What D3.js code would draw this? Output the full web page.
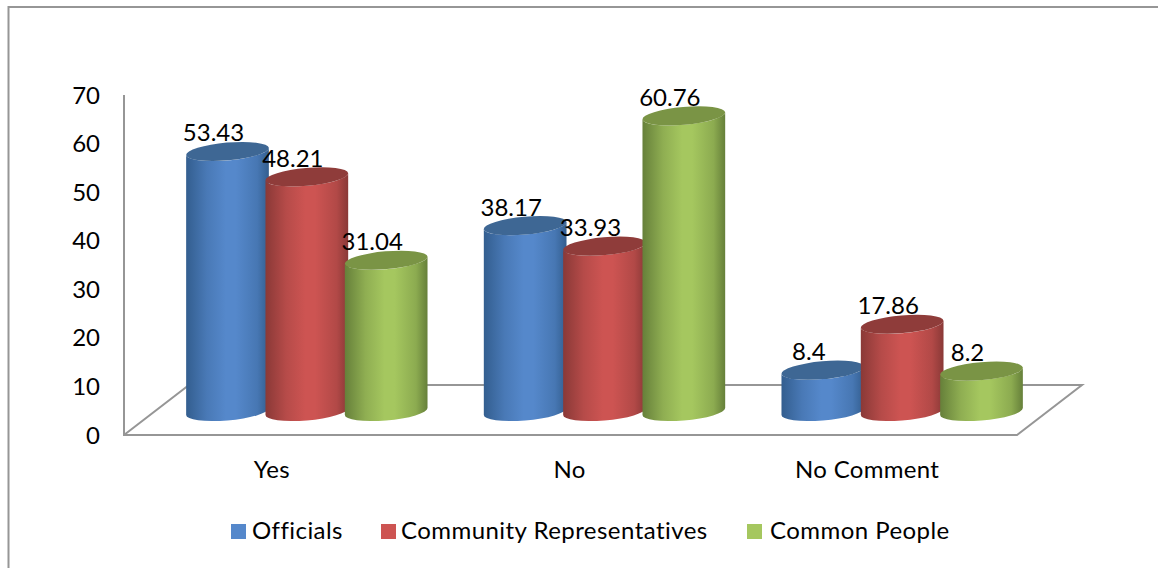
<!DOCTYPE html>
<html><head><meta charset="utf-8">
<script src="https://cdnjs.cloudflare.com/ajax/libs/d3/7.8.5/d3.min.js"></script>
<style>html,body{margin:0;padding:0;background:#fff}svg{display:block}text{font-family:Lato,"Open Sans",sans-serif;fill:#000}</style>
</head><body><svg id="c" width="1158" height="568"></svg>
<script>
const categories = ["Yes","No","No Comment"];
const seriesNames = ["Officials","Community Representatives","Common People"];
const officials = [53.43,38.17,8.4];
const community = [48.21,33.93,17.86];
const common = [31.04,60.76,8.2];
const valueLists = [officials,community,common];
const yTicks = [0,10,20,30,40,50,60,70];
const palette = [
 {mid:"#5588cb",edge:"#335e8f",top:"#3e6794"},
 {mid:"#cd5452",edge:"#8a3937",top:"#8f3c3a"},
 {mid:"#a5c75f",edge:"#66803a",top:"#7a9445"}];

const svg = d3.select("#c");
// frame
svg.append("path").attr("d","M8.5,568V7H1158").attr("fill","none").attr("stroke","#969696").attr("stroke-width",2);

const y = d3.scaleLinear().domain([0,70]).range([435,95]);
const x = d3.scaleBand().domain(categories).range([124,1017]);
const depthX=34, depthY=24;       // cylinder axis offset into the floor
const backX=65, backY=50;         // back edge of the floor
const inner = d3.scaleBand().domain(seriesNames).range([-119,119]);
const rx=41.5, ry=8.9, tilt=-5*Math.PI/180;

// gradients
const defs=svg.append("defs");
palette.forEach((p,i)=>{
  const g=defs.append("linearGradient").attr("id","g"+i).attr("x1",0).attr("x2",1).attr("y1",0).attr("y2",0);
  [[0,p.edge],[.25,d3.interpolateRgb(p.edge,p.mid)(.65)],[.48,p.mid],[.6,p.mid],[.86,d3.interpolateRgb(p.edge,p.mid)(.6)],[1,p.edge]]
   .forEach(s=>g.append("stop").attr("offset",s[0]).attr("stop-color",s[1]));
});

// walls & floor
const axisCol="#969696";
const x0=x.range()[0], x1=x.range()[1], y0=y(0);
svg.append("path").attr("fill","none").attr("stroke",axisCol).attr("stroke-width",2)
  .attr("d",`M${x0},${y(70)}V${y0}H${x1}L${x1+backX},${y0-backY}H${x0+backX}L${x0},${y0}`);

// y labels
svg.append("g").selectAll("text").data(yTicks).join("text")
  .attr("x",100).attr("y",d=>y(d)+8.5).attr("text-anchor","end")
  .style("font-size","24px").text(d=>d);
// x labels
svg.append("g").selectAll("text").data(categories).join("text")
  .attr("x",d=>x(d)+x.bandwidth()/2-1).attr("y",478).attr("text-anchor","middle")
  .style("font-size","24px").style("letter-spacing","0.3px").text(d=>d);

// cylinders
const tt=Math.atan(-(ry/rx)*Math.tan(tilt));
const ex=rx*Math.cos(tt)*Math.cos(tilt)-ry*Math.sin(tt)*Math.sin(tilt);
const ey=rx*Math.cos(tt)*Math.sin(tilt)+ry*Math.sin(tt)*Math.cos(tilt);
const deg=tilt*180/Math.PI;
categories.forEach((c,ci)=>{
  const cx0=x(c)+x.bandwidth()/2+depthX;
  seriesNames.forEach((s,si)=>{
    const v=valueLists[si][ci];
    const cx=cx0+inner(s)+inner.bandwidth()/2;
    const ty=y(v)-depthY, by=y(0)-depthY+0.5;
    const arc=(xa,ya,sweep)=>`A${rx},${ry} ${deg} 0 ${sweep} ${xa},${ya}`;
    svg.append("path").attr("fill",`url(#g${si})`)
      .attr("d",`M${cx-ex},${ty-ey}L${cx-ex},${by-ey}${arc(cx+ex,by+ey,0)}L${cx+ex},${ty+ey}${arc(cx-ex,ty-ey,1)}Z`);
    svg.append("ellipse").attr("cx",0).attr("cy",0).attr("rx",rx).attr("ry",ry)
      .attr("transform",`translate(${cx},${ty}) rotate(${deg})`).attr("fill",palette[si].top);
  });
});
// value labels on top
categories.forEach((c,ci)=>{
  const cx0=x(c)+x.bandwidth()/2+depthX;
  seriesNames.forEach((s,si)=>{
    const v=valueLists[si][ci];
    svg.append("text").attr("x",cx0+inner(s)+inner.bandwidth()/2-14).attr("y",y(v)-depthY-10)
      .attr("text-anchor","middle").style("font-size","24px").text(v);
  });
});
// legend
const legendX=[231,381,747], labelX=[252,401,770];
seriesNames.forEach((s,i)=>{
  svg.append("rect").attr("x",legendX[i]).attr("y",524).attr("width",15).attr("height",15).attr("fill",palette[i].mid);
  svg.append("text").attr("x",labelX[i]).attr("y",539).style("font-size","24px").style("letter-spacing","0.45px").text(s);
});
</script></body></html>
